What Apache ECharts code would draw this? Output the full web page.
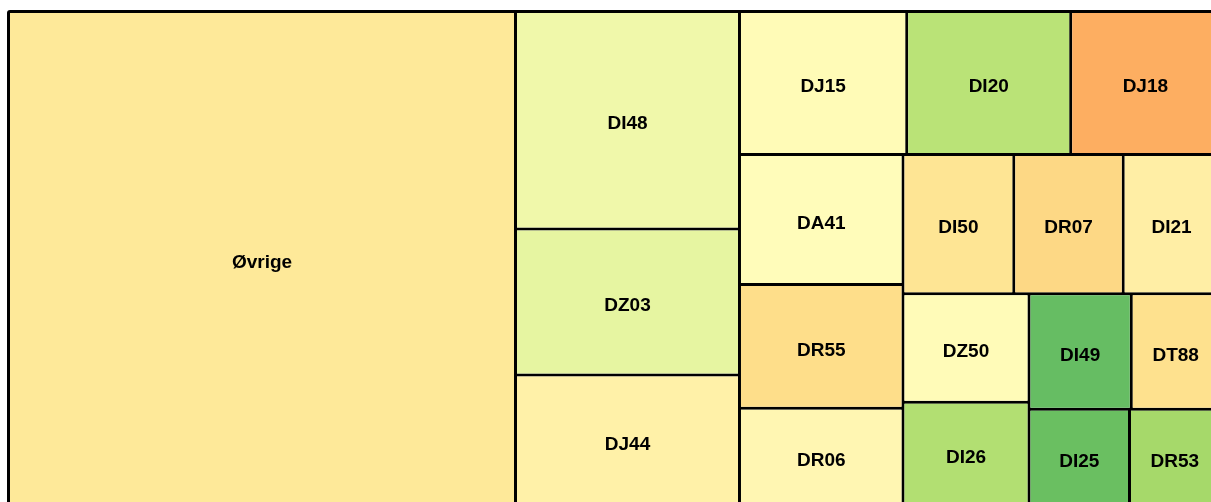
<!DOCTYPE html>
<html>
<head>
<meta charset="utf-8">
<script src="https://cdn.jsdelivr.net/npm/echarts@6/dist/echarts.min.js"></script>
<style>
  html, body { margin: 0; padding: 0; background: #fff; overflow: hidden; }
  #chart { width: 1211px; height: 502px; }
</style>
</head>
<body>
<div id="chart"></div>
<script>
// Categories and values (values read as relative tile areas)
const categories = ['Øvrige', 'DI48', 'DZ03', 'DJ44', 'DJ15', 'DI20', 'DJ18', 'DA41', 'DR55', 'DR06',
                    'DI50', 'DR07', 'DI21', 'DZ50', 'DI26', 'DI49', 'DT88', 'DI25', 'DR53'];
const values = [25071, 4872, 3270, 2934, 2391, 2345, 2135, 2126, 2024, 1597,
                1543, 1524, 1348, 1366, 1308, 1181, 1024, 973, 876];

// Tile colours (style only)
const tileColors = ['#FEE999', '#F0F8AA', '#E6F5A1', '#FFF1A8', '#FFFBB7', '#BAE377', '#FDAE61', '#FFFCBA', '#FEDE8A', '#FFF6B2',
                    '#FEE594', '#FDD885', '#FFEEA5', '#FFFBB8', '#B2DF72', '#66BD63', '#FEE18E', '#6ABF61', '#A6D96A'];

const data = categories.map((name, i) => ({
  name: name,
  value: values[i],
  itemStyle: { color: tileColors[i] }
}));

const chart = echarts.init(document.getElementById('chart'), null, { renderer: 'canvas' });
chart.setOption({
  animation: false,
  series: [{
    type: 'treemap',
    left: 7,
    top: 10,
    width: 1214.5,
    height: 497.5,
    roam: false,
    nodeClick: false,
    sort: false,
    squareRatio: 1.1,
    breadcrumb: { show: false },
    emphasis: { disabled: true },
    label: {
      show: true,
      position: 'inside',
      offset: [0, 4],
      color: '#000',
      fontWeight: 'bold',
      fontSize: 19,
      fontFamily: 'Liberation Sans, Arial, sans-serif'
    },
    levels: [
      { itemStyle: { borderColor: '#000', borderWidth: 3, gapWidth: 3, borderRadius: 3 } },
      { itemStyle: { borderWidth: 0, gapWidth: 0 } }
    ],
    data: data
  }]
});
</script>
</body>
</html>
